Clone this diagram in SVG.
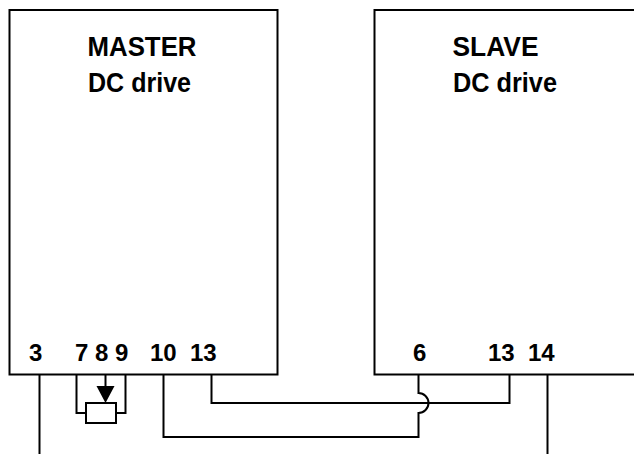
<svg xmlns="http://www.w3.org/2000/svg" width="634" height="454" viewBox="0 0 634 454">
<style>
.box{fill:#fff;stroke:#000;stroke-width:2}
.w{fill:none;stroke:#000;stroke-width:2}
.t{font-family:"Liberation Sans",Arial,sans-serif;font-weight:bold;fill:#000}
.h{font-size:27.5px}
.n{font-size:24px}
</style>
<rect width="634" height="454" fill="#fff"/>
<g id="master">
<rect class="box" x="9.5" y="10" width="268" height="364.5"/>
<text class="t h" x="87.5" y="56" textLength="109" lengthAdjust="spacingAndGlyphs">MASTER</text>
<text class="t h" x="88" y="91.5" textLength="103" lengthAdjust="spacingAndGlyphs">DC drive</text>
<text class="t n" x="29" y="360.5">3</text>
<text class="t n" x="75" y="360.5">7</text>
<text class="t n" x="95" y="360.5">8</text>
<text class="t n" x="115" y="360.5">9</text>
<text class="t n" x="150" y="360.5">10</text>
<text class="t n" x="190" y="360.5">13</text>
</g>
<g id="slave">
<rect class="box" x="374.5" y="10" width="270" height="364.5"/>
<text class="t h" x="452.5" y="56" textLength="86" lengthAdjust="spacingAndGlyphs">SLAVE</text>
<text class="t h" x="453" y="91.5" textLength="104" lengthAdjust="spacingAndGlyphs">DC drive</text>
<text class="t n" x="413" y="360.5">6</text>
<text class="t n" x="488" y="360.5">13</text>
<text class="t n" x="528" y="360.5">14</text>
</g>
<g id="potentiometer">
<rect class="box" x="86" y="403" width="30" height="20"/>
<polygon points="96.5,386 114.5,386 105.5,403" fill="#000"/>
</g>
<g id="connectors">
<path class="w" d="M39.5,374.5 V454"/>
<path class="w" d="M76.5,374.5 V413 H86"/>
<path class="w" d="M125.5,374.5 V413 H116"/>
<path class="w" d="M105.5,374.5 V388"/>
<path class="w" d="M163.5,374.5 V437 H418.5 V413 A10,10 0 0 0 418.5,393 V374.5"/>
<path class="w" d="M211.5,374.5 V403 H509.5 V374.5"/>
<path class="w" d="M547.5,374.5 V454"/>
</g>
</svg>
